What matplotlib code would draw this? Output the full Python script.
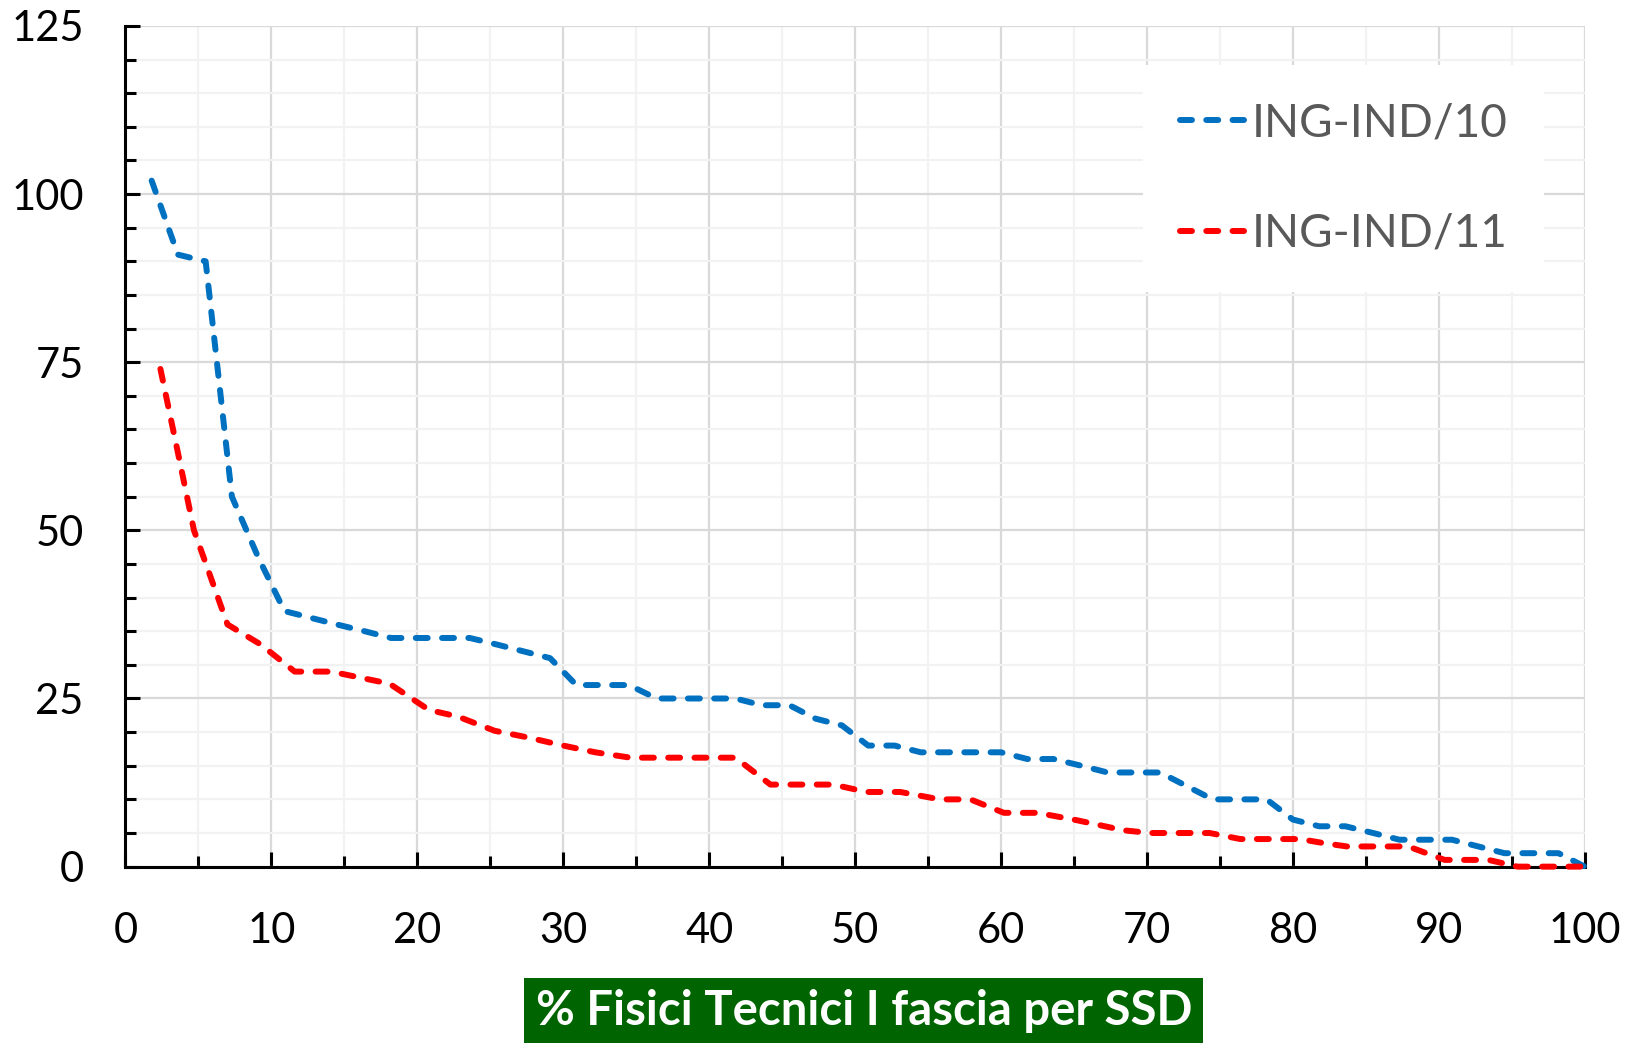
import numpy as np
import matplotlib
matplotlib.use("Agg")
import matplotlib.pyplot as plt
from matplotlib.ticker import MultipleLocator

plt.rcParams['font.family'] = ['Lato', 'DejaVu Sans']

# ING-IND/10
x_ind10 = [1.8, 3.6, 5.5, 7.3, 9.1, 10.9, 12.7, 14.5, 16.4, 18.2, 20.0, 21.8, 23.6, 25.5,
           27.3, 29.1, 30.9, 32.7, 34.5, 36.4, 38.2, 40.0, 41.8, 43.6, 45.5, 47.3, 49.1,
           50.9, 52.7, 54.5, 56.4, 58.2, 60.0, 61.8, 63.6, 65.5, 67.3, 69.1, 70.9, 72.7,
           74.5, 76.4, 78.2, 80.0, 81.8, 83.6, 85.5, 87.3, 89.1, 90.9, 92.7, 94.5, 96.4,
           98.2, 100.0]
y_ind10 = [102, 91, 90, 55, 46, 38, 37, 36, 35, 34, 34, 34, 34, 33,
           32, 31, 27, 27, 27, 25, 25, 25, 25, 24, 24, 22, 21,
           18, 18, 17, 17, 17, 17, 16, 16, 15, 14, 14, 14, 12,
           10, 10, 10, 7, 6, 6, 5, 4, 4, 4, 3, 2, 2,
           2, 0]

# ING-IND/11
x_ind11 = [2.4, 3.7, 4.7, 7.0, 9.3, 11.6, 14.1, 18.1, 20.8, 22.8, 25.3, 27.6, 30.0, 32.2,
           34.6, 41.8, 44.2, 48.5, 50.8, 53.1, 55.8, 57.9, 60.2, 62.5, 65.2, 68.4, 70.2,
           74.3, 76.4, 80.5, 82.1, 83.7, 87.9, 90.4, 93.4, 95.4, 100.0]
y_ind11 = [74, 60.5, 50, 36, 33, 29, 29, 27.2, 23.3, 22.3, 20.2, 19.2, 18, 17,
           16.2, 16.2, 12.2, 12.2, 11.1, 11.1, 10, 10, 8, 8, 6.9, 5.4, 5,
           5, 4.1, 4.1, 3.5, 3, 3, 1, 1, 0, 0]

fig = plt.figure(figsize=(16.39, 10.43), dpi=100)
ax = fig.add_axes([0.0765, 0.1691, 0.8904, 0.806])

dash = (2.0, 2.4)
ax.plot(x_ind10, y_ind10, color='#0070C0', lw=4.3, dashes=dash, dash_capstyle='round',
        label='ING-IND/10', zorder=3, clip_on=False)
ax.plot(x_ind11, y_ind11, color='#FF0000', lw=4.3, dashes=dash, dash_capstyle='round',
        label='ING-IND/11', zorder=3, clip_on=False)

ax.set_xlim(0, 100)
ax.set_ylim(0, 125)
ax.xaxis.set_major_locator(MultipleLocator(10))
ax.xaxis.set_minor_locator(MultipleLocator(5))
ax.yaxis.set_major_locator(MultipleLocator(25))
ax.yaxis.set_minor_locator(MultipleLocator(5))

ax.grid(which='major', color='#D9D9D9', lw=1.6, zorder=0)
ax.grid(which='minor', color='#F2F2F2', lw=1.6, zorder=0)
ax.set_axisbelow(True)

for s in ['top', 'right']:
    ax.spines[s].set_visible(False)
for s in ['left', 'bottom']:
    ax.spines[s].set_linewidth(2.2)
    ax.spines[s].set_color('black')

ax.tick_params(which='major', direction='in', length=11, width=2.2, labelsize=30, pad=30)
ax.tick_params(which='minor', direction='in', length=8, width=2.2)
ax.tick_params(axis='x', which='major', pad=33)

ax.text(0.506, -0.172, '% Fisici Tecnici I fascia per SSD', transform=ax.transAxes,
        ha='center', va='center', fontsize=34, fontweight='bold', color='white',
        bbox=dict(facecolor='#006400', edgecolor='none', pad=8))

leg = ax.legend(loc='upper right', bbox_to_anchor=(0.972, 0.953), borderaxespad=0,
                fontsize=33, handlelength=1.415, handletextpad=0.15, labelspacing=1.5,
                borderpad=0.8, frameon=True, fancybox=False)
leg.get_frame().set_facecolor('white')
leg.get_frame().set_edgecolor('none')
leg.get_frame().set_alpha(1)
for t in leg.get_texts():
    t.set_color('#595959')

fig.savefig("out.png", dpi=100)
